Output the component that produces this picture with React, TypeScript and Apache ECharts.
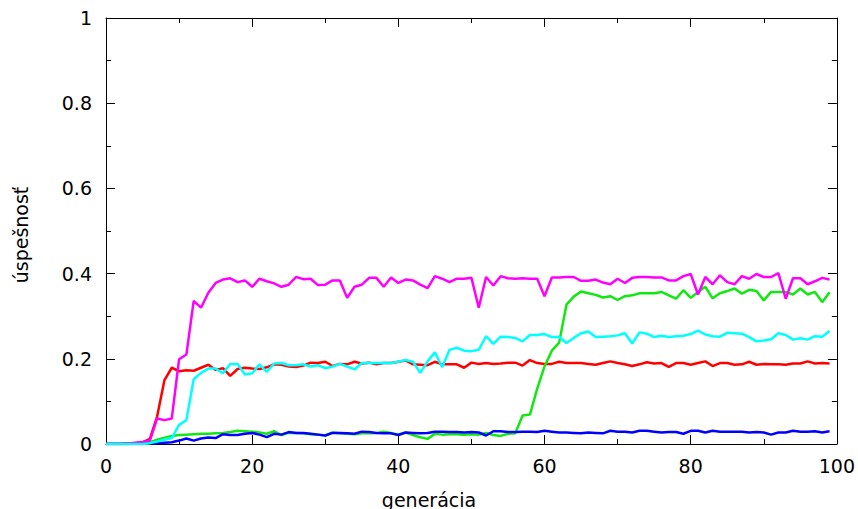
import React, { useEffect, useRef } from "react";
import * as echarts from "echarts";

// success rate per generation (index = generation 0..99)
const red = [
  0, 0, 0, 0.001, 0.002, 0.004, 0.012, 0.065, 0.15, 0.179,
  0.171, 0.173, 0.172, 0.179, 0.186, 0.174, 0.178, 0.16, 0.176, 0.179,
  0.177, 0.176, 0.18, 0.187, 0.186, 0.182, 0.181, 0.184, 0.191, 0.19,
  0.193, 0.183, 0.188, 0.187, 0.193, 0.189, 0.191, 0.187, 0.19, 0.19,
  0.193, 0.196, 0.187, 0.186, 0.185, 0.193, 0.187, 0.187, 0.187, 0.179,
  0.191, 0.188, 0.19, 0.188, 0.189, 0.191, 0.191, 0.184, 0.197, 0.19,
  0.188, 0.188, 0.193, 0.19, 0.19, 0.19, 0.188, 0.186, 0.19, 0.194,
  0.19, 0.187, 0.183, 0.187, 0.192, 0.189, 0.19, 0.181, 0.19, 0.19,
  0.186, 0.19, 0.194, 0.183, 0.19, 0.19, 0.186, 0.187, 0.193, 0.186,
  0.188, 0.187, 0.187, 0.186, 0.189, 0.189, 0.194, 0.189, 0.19, 0.189,
];

const green = [
  0, 0, 0, 0, 0, 0.001, 0.004, 0.01, 0.015, 0.019,
  0.021, 0.022, 0.023, 0.024, 0.024, 0.025, 0.026, 0.028, 0.031, 0.03,
  0.029, 0.027, 0.024, 0.03, 0.021, 0.026, 0.026, 0.025, 0.023, 0.022,
  0.02, 0.027, 0.025, 0.024, 0.023, 0.025, 0.025, 0.026, 0.029, 0.026,
  0.022, 0.027, 0.021, 0.016, 0.012, 0.024, 0.022, 0.023, 0.023, 0.022,
  0.023, 0.022, 0.026, 0.021, 0.019, 0.024, 0.025, 0.067, 0.069, 0.13,
  0.182, 0.219, 0.238, 0.327, 0.346, 0.358, 0.354, 0.35, 0.344, 0.347,
  0.338, 0.347, 0.349, 0.354, 0.354, 0.354, 0.357, 0.349, 0.341, 0.361,
  0.343, 0.357, 0.369, 0.342, 0.354, 0.359, 0.365, 0.353, 0.362, 0.359,
  0.337, 0.357, 0.357, 0.357, 0.351, 0.365, 0.351, 0.357, 0.333, 0.356,
];

const blue = [
  0, 0, 0, 0, 0, 0, 0.001, 0.002, 0.003, 0.004,
  0.008, 0.013, 0.008, 0.013, 0.015, 0.014, 0.023, 0.021, 0.021, 0.024,
  0.026, 0.022, 0.016, 0.024, 0.022, 0.028, 0.026, 0.026, 0.024, 0.022,
  0.02, 0.026, 0.026, 0.025, 0.024, 0.029, 0.028, 0.026, 0.025, 0.025,
  0.021, 0.027, 0.026, 0.025, 0.026, 0.029, 0.029, 0.028, 0.028, 0.027,
  0.028, 0.027, 0.02, 0.03, 0.03, 0.028, 0.028, 0.029, 0.029, 0.028,
  0.031, 0.029, 0.027, 0.027, 0.026, 0.025, 0.027, 0.026, 0.025, 0.031,
  0.029, 0.029, 0.027, 0.031, 0.031, 0.029, 0.027, 0.028, 0.028, 0.024,
  0.031, 0.031, 0.027, 0.031, 0.029, 0.029, 0.029, 0.029, 0.027, 0.028,
  0.027, 0.022, 0.027, 0.027, 0.031, 0.029, 0.029, 0.03, 0.027, 0.03,
];

const magenta = [
  0, 0, 0, 0.001, 0.003, 0.005, 0.008, 0.06, 0.056, 0.06,
  0.199, 0.21, 0.336, 0.32, 0.355, 0.378, 0.386, 0.389, 0.38, 0.384,
  0.369, 0.388, 0.382, 0.377, 0.369, 0.374, 0.392, 0.387, 0.388, 0.373,
  0.374, 0.384, 0.384, 0.343, 0.369, 0.374, 0.39, 0.39, 0.369, 0.391,
  0.378, 0.386, 0.384, 0.374, 0.366, 0.394, 0.388, 0.38, 0.388, 0.388,
  0.39, 0.32, 0.392, 0.372, 0.394, 0.389, 0.388, 0.389, 0.388, 0.388,
  0.347, 0.391, 0.391, 0.392, 0.392, 0.383, 0.383, 0.386, 0.379, 0.375,
  0.388, 0.378, 0.39, 0.392, 0.392, 0.391, 0.391, 0.384, 0.384, 0.394,
  0.399, 0.351, 0.392, 0.375, 0.396, 0.38, 0.375, 0.394, 0.388, 0.399,
  0.392, 0.392, 0.401, 0.341, 0.389, 0.389, 0.375, 0.382, 0.39, 0.386,
];

const cyan = [
  0, 0, 0, 0, 0, 0, 0.002, 0.006, 0.01, 0.014,
  0.045, 0.056, 0.152, 0.167, 0.177, 0.177, 0.166, 0.188, 0.188, 0.163,
  0.166, 0.187, 0.169, 0.189, 0.19, 0.185, 0.185, 0.187, 0.182, 0.185,
  0.178, 0.182, 0.188, 0.182, 0.175, 0.19, 0.19, 0.19, 0.19, 0.19,
  0.193, 0.197, 0.193, 0.167, 0.194, 0.215, 0.18, 0.221, 0.226, 0.219,
  0.218, 0.221, 0.253, 0.235, 0.252, 0.251, 0.249, 0.241, 0.256, 0.256,
  0.258, 0.251, 0.251, 0.237, 0.249, 0.26, 0.264, 0.251, 0.252, 0.253,
  0.255, 0.26, 0.236, 0.262, 0.259, 0.251, 0.254, 0.251, 0.253, 0.254,
  0.258, 0.266, 0.257, 0.253, 0.252, 0.261, 0.26, 0.259, 0.251, 0.241,
  0.243, 0.246, 0.26, 0.256, 0.245, 0.248, 0.245, 0.253, 0.252, 0.265,
];

const seriesList = [
  { name: "1", values: red, color: "#ff0000" },
  { name: "2", values: green, color: "#11e811" },
  { name: "3", values: blue, color: "#0000ff" },
  { name: "4", values: magenta, color: "#ff00ff" },
  { name: "5", values: cyan, color: "#00ffff" },
];

const X_TITLE = "generácia";
const Y_TITLE = "úspešnosť";
const FONT = "DejaVu Sans";
const FS = 19;

export default function App() {
  const ref = useRef<HTMLDivElement>(null);
  useEffect(() => {
    if (!ref.current) return;
    const chart = echarts.init(ref.current, null, { renderer: "svg" });
    const axisCommon = {
      axisLine: { show: true, onZero: false, lineStyle: { color: "#000", width: 1 } },
      axisTick: { show: true, inside: true, length: 9, lineStyle: { color: "#000", width: 1 } },
      minorTick: { show: true, splitNumber: 2, length: 5, lineStyle: { color: "#000", width: 1 } },
      splitLine: { show: false },
      minorSplitLine: { show: false },
    };
    chart.setOption({
      animation: false,
      backgroundColor: "#fff",
      grid: { left: 106, right: 21, top: 18, bottom: 65, containLabel: false },
      xAxis: [
        {
          type: "value", min: 0, max: 100, interval: 20, position: "bottom",
          ...axisCommon,
          axisLabel: { show: true, color: "#000", fontFamily: FONT, fontSize: FS, margin: 12 },
        },
        {
          type: "value", min: 0, max: 100, interval: 20, position: "top",
          ...axisCommon,
          axisLabel: { show: false },
        },
      ],
      yAxis: [
        {
          type: "value", min: 0, max: 1, interval: 0.2, position: "left",
          ...axisCommon,
          axisLabel: { show: true, color: "#000", fontFamily: FONT, fontSize: FS, margin: 14 },
        },
        {
          type: "value", min: 0, max: 1, interval: 0.2, position: "right",
          ...axisCommon,
          axisLabel: { show: false },
        },
      ],
      graphic: [
        {
          type: "text", left: "center", x: 0, top: 490,
          style: { text: X_TITLE, fontFamily: FONT, fontSize: FS, fill: "#000" },
          z: 10,
        },
        {
          type: "text", x: 21, y: 235, rotation: Math.PI / 2,
          style: { text: Y_TITLE, fontFamily: FONT, fontSize: FS, fill: "#000", align: "center", verticalAlign: "middle" },
          z: 10,
        },
      ],
      series: seriesList.map((s) => ({
        name: s.name,
        type: "line",
        xAxisIndex: 0,
        yAxisIndex: 0,
        showSymbol: false,
        symbol: "none",
        data: s.values.map((v, i) => [i, v]),
        lineStyle: { color: s.color, width: 2.5 },
        itemStyle: { color: s.color },
        emphasis: { disabled: true },
      })),
    });
    return () => chart.dispose();
  }, []);
  return <div ref={ref} style={{ width: 858, height: 509, position: "absolute", left: 0, top: 0 }} />;
}
